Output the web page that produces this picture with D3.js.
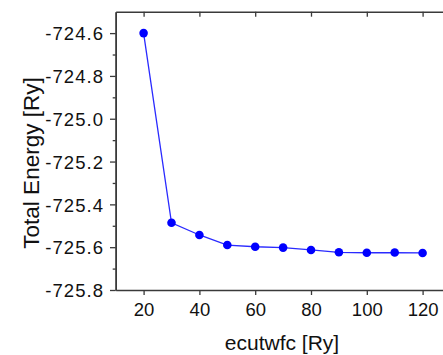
<!DOCTYPE html>
<html>
<head>
<meta charset="utf-8">
<script src="https://cdn.jsdelivr.net/npm/d3@7"></script>
<style>
  html, body { margin: 0; padding: 0; background: #fff; }
  svg { display: block; font-family: "Liberation Sans", Arial, sans-serif; }
</style>
</head>
<body>
<svg id="chart" width="443" height="355"></svg>
<script>
// Convergence of total energy with plane-wave cutoff
const cutoffs = [20, 30, 40, 50, 60, 70, 80, 90, 100, 110, 120];
const energies = [-724.600, -725.486, -725.543, -725.590, -725.598, -725.602, -725.613, -725.624, -725.626, -725.625, -725.627];
const xTickValues = [20, 40, 60, 80, 100, 120];
const yTickValues = [-724.6, -724.8, -725.0, -725.2, -725.4, -725.6, -725.8];
const yMinorValues = [-724.7, -724.9, -725.1, -725.3, -725.5, -725.7];

const svg = d3.select("#chart");
const plotLeft = 115.7, plotTop = 11.7, plotBottom = 290, plotRight = 450.5;

const x = d3.scaleLinear().domain([10, 130]).range([plotLeft, plotRight]);
const y = d3.scaleLinear().domain([-725.8, -724.5]).range([plotBottom, plotTop]);

const axisColor = "#3a3a3a";
// plain hyphen for negative numbers
const fmtY = d => d3.format(".1f")(d).replace("\u2212", "-");

function styleAxis(g) {
  g.select(".domain").attr("stroke", axisColor).attr("stroke-width", 1.5);
  g.selectAll(".tick line").attr("stroke", axisColor).attr("stroke-width", 1.3);
  g.selectAll(".tick text").attr("fill", "#111");
}

// bottom axis
const gx = svg.append("g")
  .attr("transform", `translate(0,${plotBottom})`)
  .call(d3.axisBottom(x).tickValues(xTickValues).tickSize(5).tickSizeOuter(0).tickPadding(8));
gx.selectAll(".tick text").attr("font-size", "18.5px");
styleAxis(gx);

// top frame line with inward ticks
const gt = svg.append("g")
  .attr("transform", `translate(0,${plotTop})`)
  .call(d3.axisTop(x).tickValues(xTickValues).tickSize(-5).tickSizeOuter(0).tickFormat(""));
styleAxis(gt);

// left axis: minor ticks
const gym = svg.append("g")
  .attr("transform", `translate(${plotLeft},0)`)
  .call(d3.axisLeft(y).tickValues(yMinorValues).tickSize(3).tickSizeOuter(0).tickFormat(""));
styleAxis(gym);

// left axis: major ticks with labels
const gy = svg.append("g")
  .attr("transform", `translate(${plotLeft},0)`)
  .call(d3.axisLeft(y).tickValues(yTickValues).tickSize(5.7).tickSizeOuter(0)
    .tickPadding(5.8).tickFormat(fmtY));
gy.selectAll(".tick text")
  .attr("font-size", "18.5px")
  .attr("letter-spacing", "1.1px")
  .attr("dy", "0.36em");
styleAxis(gy);

// axis titles
svg.append("text")
  .attr("x", 282).attr("y", 350)
  .attr("text-anchor", "middle")
  .attr("font-size", "21px")
  .attr("fill", "#111")
  .text("ecutwfc [Ry]");

svg.append("text")
  .attr("transform", "translate(39,163) rotate(-90)")
  .attr("text-anchor", "middle")
  .attr("font-size", "22.5px")
  .attr("fill", "#111")
  .text("Total Energy [Ry]");

// data line and markers
const pts = cutoffs.map((c, i) => [c, energies[i]]);
svg.append("path")
  .datum(pts)
  .attr("fill", "none")
  .attr("stroke", "#2a2aff")
  .attr("stroke-width", 1.3)
  .attr("d", d3.line().x(d => x(d[0])).y(d => y(d[1])));

svg.append("g")
  .selectAll("circle")
  .data(pts)
  .join("circle")
  .attr("cx", d => x(d[0]))
  .attr("cy", d => y(d[1]))
  .attr("r", 4.3)
  .attr("fill", "#0000ff");
</script>
</body>
</html>
